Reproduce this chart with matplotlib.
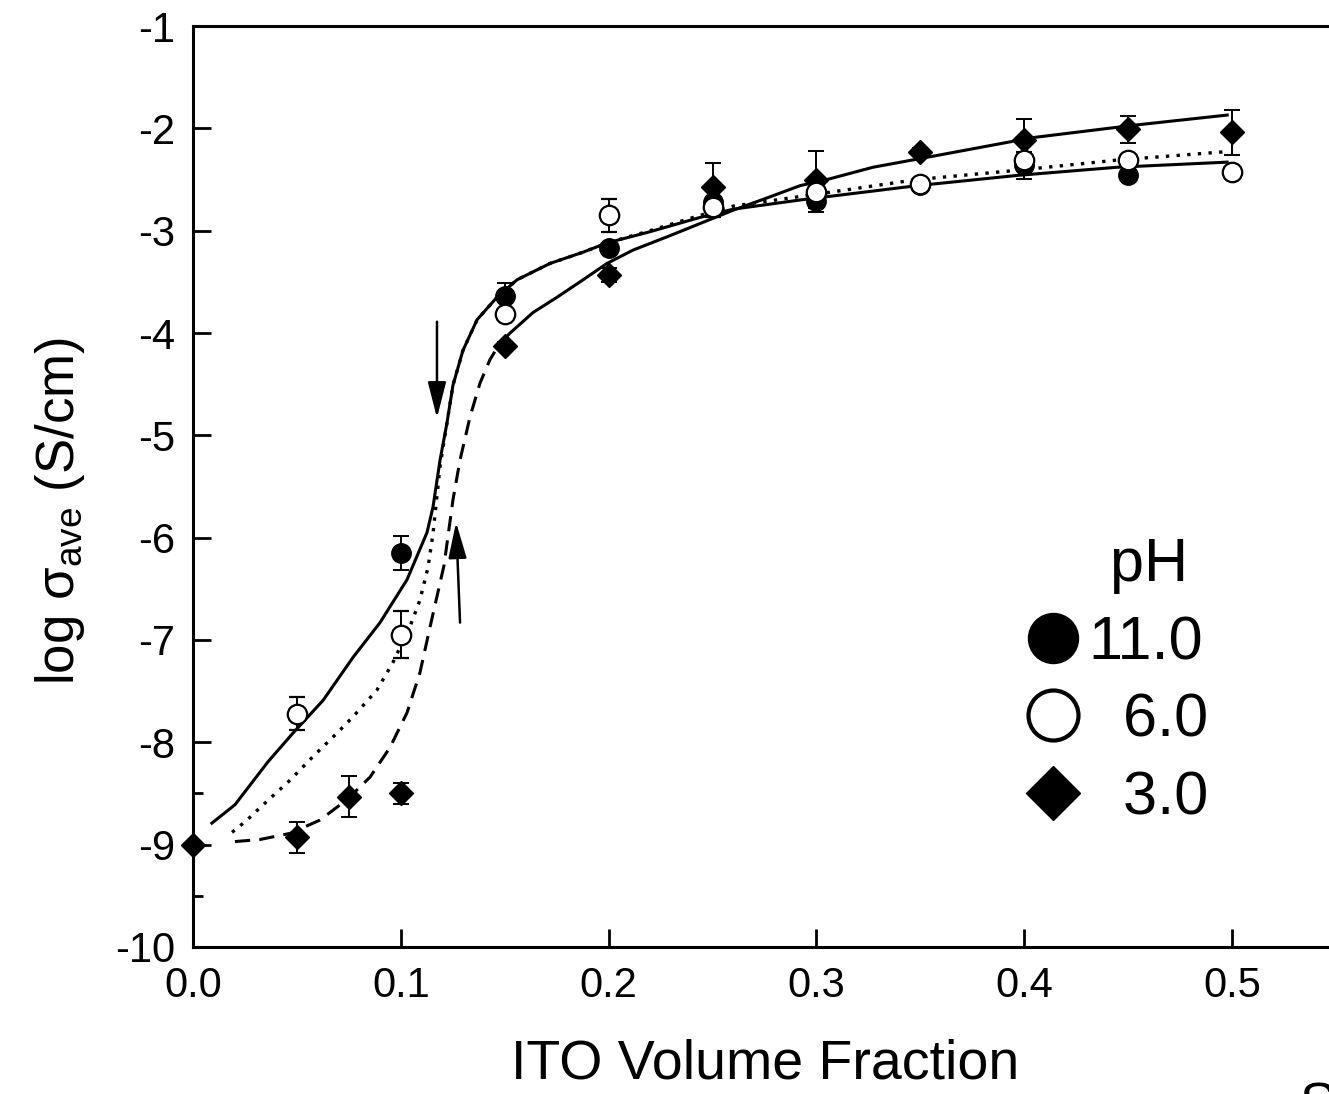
import matplotlib
matplotlib.use("Agg")
import matplotlib.pyplot as plt
from matplotlib.lines import Line2D
from matplotlib.ticker import FixedLocator

plt.rcParams['font.family'] = ['Liberation Sans', 'DejaVu Sans']
plt.rcParams['mathtext.fontset'] = 'custom'
plt.rcParams['mathtext.rm'] = 'Liberation Sans'
plt.rcParams['axes.unicode_minus'] = False

# measured points (mean log conductivity and error)
x_ph11 = [0.1, 0.15, 0.2, 0.25, 0.3, 0.35, 0.4, 0.45, 0.5]
y_ph11 = [-6.15, -3.64, -3.17, -2.72, -2.71, -2.55, -2.36, -2.46, -2.43]
e_ph11 = [0.17, 0.13, 0, 0, 0.11, 0, 0.13, 0, 0]

x_ph6 = [0.05, 0.1, 0.15, 0.2, 0.25, 0.3, 0.35, 0.4, 0.45, 0.5]
y_ph6 = [-7.72, -6.95, -3.81, -2.85, -2.77, -2.62, -2.54, -2.31, -2.31, -2.43]
e_ph6 = [0.16, 0.23, 0, 0.16, 0.1, 0, 0, 0.05, 0, 0]

x_ph3 = [0, 0.05, 0.075, 0.1, 0.15, 0.2, 0.25, 0.3, 0.35, 0.4, 0.45, 0.5]
y_ph3 = [-9.0, -8.93, -8.53, -8.50, -4.13, -3.43, -2.57, -2.50, -2.23, -2.11, -2.01, -2.04]
e_ph3 = [0, 0.15, 0.2, 0.1, 0.04, 0.07, 0.23, 0.28, 0.04, 0.2, 0.13, 0.22]

# fitted curves
fit11_x = [0.0091, 0.0202, 0.0361, 0.0481, 0.0626, 0.077, 0.09, 0.103, 0.1126, 0.1155,
           0.1189, 0.1222, 0.1251, 0.1299, 0.1367, 0.1463, 0.1559, 0.1718, 0.1877, 0.1992,
           0.2199, 0.244, 0.2599, 0.2921, 0.3484, 0.3965, 0.4447, 0.4976]
fit11_y = [-8.79, -8.61, -8.19, -7.91, -7.59, -7.17, -6.83, -6.41, -5.95, -5.70,
           -5.24, -4.88, -4.51, -4.17, -3.87, -3.65, -3.48, -3.32, -3.21, -3.12,
           -3.01, -2.87, -2.79, -2.70, -2.56, -2.46, -2.38, -2.33]

fit6_x = [0.0188, 0.026, 0.0322, 0.0467, 0.0577, 0.0693, 0.077, 0.0885, 0.0962, 0.1044,
          0.1092, 0.1131, 0.1155, 0.1189, 0.1222, 0.1251, 0.1299, 0.1367, 0.1463, 0.1559,
          0.1718, 0.1877, 0.1992, 0.2199, 0.244, 0.2599, 0.308, 0.3484, 0.3965, 0.4447, 0.4957]
fit6_y = [-8.88, -8.76, -8.64, -8.37, -8.14, -7.91, -7.75, -7.49, -7.22, -6.87,
          -6.61, -6.29, -5.96, -5.30, -4.88, -4.51, -4.17, -3.87, -3.65, -3.48,
          -3.32, -3.21, -3.12, -3.0, -2.85, -2.76, -2.62, -2.50, -2.41, -2.31, -2.23]

fit3_low_x = [0.0202, 0.0322, 0.0467, 0.0611, 0.0741, 0.0852, 0.0948, 0.103, 0.1092, 0.1141,
              0.1208, 0.1251, 0.1285, 0.1333, 0.1381, 0.1429, 0.1477]
fit3_low_y = [-8.97, -8.95, -8.89, -8.76, -8.56, -8.34, -8.05, -7.71, -7.32, -6.87,
              -6.27, -5.63, -5.24, -4.82, -4.49, -4.26, -4.10]
fit3_high_x = [0.1477, 0.1526, 0.1636, 0.1752, 0.1877, 0.1992, 0.2117, 0.2281, 0.244, 0.2599,
               0.2762, 0.2921, 0.3051, 0.3272, 0.3513, 0.3725, 0.4042, 0.4524, 0.4976]
fit3_high_y = [-4.10, -4.00, -3.80, -3.65, -3.48, -3.32, -3.19, -3.06, -2.93, -2.80,
               -2.68, -2.56, -2.50, -2.38, -2.29, -2.21, -2.09, -1.97, -1.87]

# threshold arrows (tail x, tail y, head x, head y)
arrow_down = (0.1174, -3.89, 0.1174, -4.83)
arrow_up = (0.1285, -6.83, 0.1266, -5.85)

fig = plt.figure(figsize=(13.29, 10.94), dpi=100)
ax = fig.add_axes([0.1452, 0.1344, 0.9383, 0.8418])

ax.plot(fit11_x, fit11_y, color='black', lw=2.2, zorder=2)
ax.plot(fit6_x, fit6_y, color='black', lw=2.4, ls=(0, (1, 2.2)), zorder=2)
ax.plot(fit3_low_x, fit3_low_y, color='black', lw=2.2, ls=(0, (5, 3)), zorder=2)
ax.plot(fit3_high_x, fit3_high_y, color='black', lw=2.2, zorder=2)

err_kw = dict(ecolor='black', elinewidth=1.4, capsize=5.5, capthick=1.4, ls='none', clip_on=False)
ax.errorbar(x_ph3, y_ph3, yerr=e_ph3, fmt='D', ms=12, mfc='black', mec='black', zorder=3, **err_kw)
ax.errorbar(x_ph11, y_ph11, yerr=e_ph11, fmt='o', ms=14, mfc='black', mec='black', zorder=4, **err_kw)
ax.errorbar(x_ph6, y_ph6, yerr=e_ph6, fmt='o', ms=14, mfc='white', mec='black', mew=1.6, zorder=5, **err_kw)

for x0, y0, x1, y1 in (arrow_down, arrow_up):
    ax.annotate('', xy=(x1, y1), xytext=(x0, y0),
                arrowprops=dict(arrowstyle='-|>,head_length=1.1,head_width=0.28',
                                mutation_scale=20, color='black', lw=1.8, shrinkA=0, shrinkB=0))

ax.set_xlim(0, 0.6)
ax.set_ylim(-10, -1)
ax.set_xticks([0.0, 0.1, 0.2, 0.3, 0.4, 0.5])
ax.set_xticklabels(['0.0', '0.1', '0.2', '0.3', '0.4', '0.5'])
ax.set_yticks(range(-10, 0))
ax.yaxis.set_minor_locator(FixedLocator([-9.5, -8.5]))
ax.tick_params(which='major', direction='in', length=13, width=2, labelsize=30)
ax.tick_params(axis='x', which='major', pad=14)
ax.tick_params(axis='y', which='major', pad=13)
ax.tick_params(which='minor', direction='in', length=7, width=2)
for s in ax.spines.values():
    s.set_linewidth(2.2)

ax.set_xlabel('ITO Volume Fraction', fontsize=40)
ax.xaxis.set_label_coords(0.459, -0.099)
ax.set_ylabel(r'log σ$_{\mathrm{ave}}$ (S/cm)', fontsize=38)
ax.yaxis.set_label_coords(-0.085, 0.473)

handles = [Line2D([], [], ls='none', marker='o', ms=36, mfc='black', mec='black'),
           Line2D([], [], ls='none', marker='o', ms=36, mfc='white', mec='black', mew=3),
           Line2D([], [], ls='none', marker='D', ms=27, mfc='black', mec='black')]
leg = ax.legend(handles, ['11.0', '  6.0', '  3.0'], title='    pH', frameon=False,
                fontsize=44, title_fontsize=44, loc='upper left',
                bbox_to_anchor=(0.641, 0.478), handlelength=1.0, handletextpad=0.08,
                labelspacing=0.34, borderpad=0)

fig.text(1300 / 1329, 1 - 1082 / 1094, 'S', fontsize=40, va='top', ha='left')

fig.savefig('out.png', dpi=100)
